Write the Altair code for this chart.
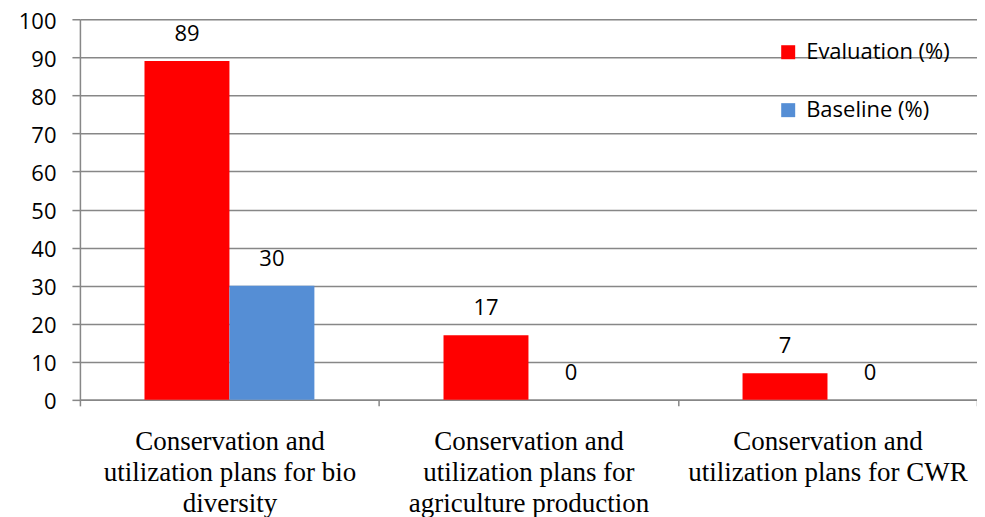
import altair as alt
import pandas as pd

categories = [
    "Conservation and|utilization plans for bio|diversity",
    "Conservation and|utilization plans for|agriculture production",
    "Conservation and|utilization plans for CWR",
]
series = ["Evaluation (%)", "Baseline (%)"]
evaluation = [89, 17, 7]
baseline = [30, 0, 0]
colors = ["#FF0000", "#558ED5"]

rows = []
for c, e, b in zip(categories, evaluation, baseline):
    rows.append({"category": c, "series": series[0], "value": e})
    rows.append({"category": c, "series": series[1], "value": b})
df = pd.DataFrame(rows)

sans = "Open Sans"
serif = "Liberation Serif"

base = alt.Chart(df).encode(
    x=alt.X(
        "category:N",
        sort=categories,
        scale=alt.Scale(paddingInner=0, paddingOuter=0),
        axis=alt.Axis(
            title=None,
            labelAngle=0,
            labelExpr="split(datum.label, '|')",
            labelFont=serif,
            labelFontSize=27,
            labelLineHeight=31,
            labelLimit=400,
            labelPadding=23,
            labelColor="#000000",
            tickBand="extent",
            tickSize=6,
            tickColor="#878787",
            domainColor="#878787",
            domainWidth=1.5,
            tickWidth=1.5,
            grid=False,
        ),
    ),
    xOffset=alt.XOffset(
        "series:N",
        sort=series,
        scale=alt.Scale(paddingInner=0, paddingOuter=0.76),
    ),
    y=alt.Y(
        "value:Q",
        scale=alt.Scale(domain=[0, 100], nice=False),
        axis=alt.Axis(
            title=None,
            values=list(range(0, 101, 10)),
            labelFont=sans,
            labelFontSize=22,
            labelColor="#000000",
            labelPadding=16,
            labelOffset=2,
            tickSize=8,
            tickColor="#878787",
            tickWidth=1.5,
            domainColor="#878787",
            domainWidth=1.5,
            grid=True,
            gridColor="#878787",
            gridWidth=1.5,
        ),
    ),
)

bars = base.mark_bar().encode(
    color=alt.Color(
        "series:N",
        sort=series,
        scale=alt.Scale(domain=series, range=colors),
        legend=alt.Legend(
            title=None,
            orient="none",
            legendX=698,
            legendY=22,
            symbolType="square",
            symbolSize=196,
            symbolStrokeWidth=0,
            labelFont=sans,
            labelFontSize=22,
            labelColor="#000000",
            labelOffset=7,
            rowPadding=36,
            padding=0,
        ),
    )
)

text = base.mark_text(dy=-27, font=sans, fontSize=22, color="#000000").encode(
    text=alt.Text("value:Q")
)

chart = (
    alt.layer(bars, text)
    .properties(
        width=898,
        height=381,
        autosize=alt.AutoSizeParams(type="none"),
        padding={"left": 72, "top": 11, "right": 0, "bottom": 122},
    )
    .configure_view(stroke=None)
    .configure(background="#FFFFFF")
)

chart.save("out.html", embed_options={"renderer": "svg", "actions": False})
